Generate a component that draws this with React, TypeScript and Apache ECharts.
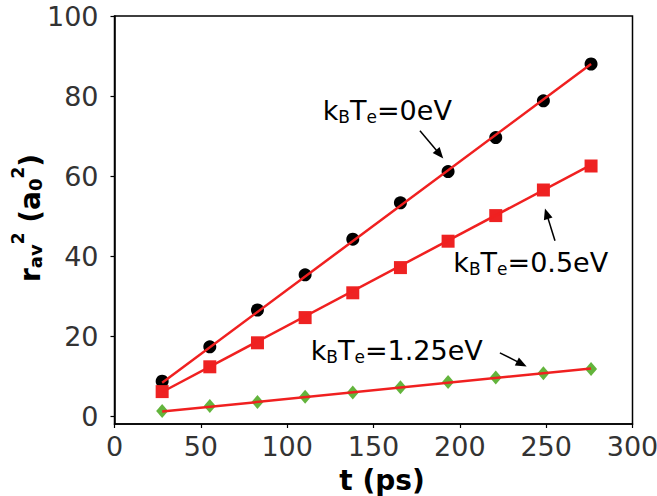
import React, { useEffect, useRef } from 'react';
import * as echarts from 'echarts';

// Sampling times (ps)
const tValues = [27.6, 55.2, 82.8, 110.4, 138.0, 165.6, 193.2, 220.8, 248.4, 276.0];
// Mean square displacement r_av^2 (a0^2) for three electron temperatures
const r2Te0 = [8.7, 17.3, 26.5, 35.3, 44.2, 53.3, 61.1, 69.6, 78.8, 88.0];
const r2Te05 = [6.1, 12.3, 18.3, 24.6, 30.8, 37.1, 43.7, 50.1, 56.5, 62.5];
const r2Te125 = [1.25, 2.5, 3.5, 4.8, 5.9, 7.2, 8.5, 9.6, 10.7, 11.75];

// Linear fits: end points in t and the fitted values there
const fitT = [27.6, 276.0];
const fitTe0 = [8.3, 88.0];
const fitTe05 = [6.0, 62.8];
const fitTe125 = [1.1, 11.9];

// Axis ticks
const xTicks = [0, 50, 100, 150, 200, 250, 300];
const yTicks = [0, 20, 40, 60, 80, 100];

// Annotation labels: [value text, left t, baseline r2] and arrows [tail t, tail r2, head t, head r2]
const labelTexts = ['0eV', '0.5eV', '1.25eV'];
const labelAnchors = [
  [120.6, 74.0],
  [196.2, 36.1],
  [113.6, 14.0],
];
const arrows = [
  [176.9, 71.3, 190.4, 64.4],
  [255.1, 43.8, 249.3, 51.9],
  [223.2, 15.8, 238.7, 12.4],
];

const FONT = 'DejaVu Sans';
const FIT_RED = '#f02020';

const pairs = (xs: number[], ys: number[]) => xs.map((x, i) => [x, ys[i]]);

export default function App() {
  const ref = useRef<HTMLDivElement>(null);

  useEffect(() => {
    if (!ref.current) return;
    const chart = echarts.init(ref.current, null, { renderer: 'svg', width: 657, height: 496 });

    const tickStyle = { show: true, inside: false, length: 4, lineStyle: { color: '#000', width: 1.2 } };

    chart.setOption({
      animation: false,
      backgroundColor: '#fff',
      grid: {
        left: 114.5,
        right: 24.5,
        top: 16,
        bottom: 72,
        show: true,
        borderColor: '#000',
        borderWidth: 1.5,
        backgroundColor: 'transparent',
        containLabel: false,
        outerBoundsMode: 'none',
      },
      xAxis: {
        type: 'value',
        min: 0,
        max: 300,
        interval: 50,
        axisLine: { show: true, onZero: false, lineStyle: { color: '#000', width: 1.5 } },
        axisTick: { ...tickStyle, customValues: xTicks },
        axisLabel: {
          customValues: xTicks,
          fontFamily: FONT,
          fontSize: 27,
          color: '#333',
          margin: 9,
        },
        splitLine: { show: false },
      },
      yAxis: {
        type: 'value',
        min: -2,
        max: 100,
        axisLine: { show: true, onZero: false, lineStyle: { color: '#000', width: 1.5 } },
        axisTick: { ...tickStyle, customValues: yTicks },
        axisLabel: {
          customValues: yTicks,
          fontFamily: FONT,
          fontSize: 27,
          color: '#333',
          margin: 16,
        },
        splitLine: { show: false },
      },
      series: [
        {
          type: 'scatter',
          data: pairs(tValues, r2Te0),
          symbol: 'circle',
          symbolSize: 13,
          itemStyle: { color: '#000', opacity: 1 },
          z: 2,
        },
        {
          type: 'scatter',
          data: pairs(tValues, r2Te05),
          symbol: 'rect',
          symbolSize: 13,
          itemStyle: { color: '#ee2222', opacity: 1 },
          z: 2,
        },
        {
          type: 'scatter',
          data: pairs(tValues, r2Te125),
          symbol: 'diamond',
          symbolSize: [12, 14],
          itemStyle: { color: '#63b43c', opacity: 1 },
          z: 2,
        },
        ...[fitTe0, fitTe05, fitTe125].map((fit) => ({
          type: 'line',
          data: pairs(fitT, fit),
          showSymbol: false,
          symbol: 'none',
          lineStyle: { color: FIT_RED, width: 2.5 },
          z: 3,
        })),
      ],
    });

    // Annotations placed from data coordinates
    const toPx = (p: number[]) => chart.convertToPixel({ gridIndex: 0 }, p) as number[];
    const rich = {
      m: { fontFamily: FONT, fontSize: 27, color: '#000' },
      s: { fontFamily: FONT, fontSize: 17, color: '#000', padding: [13, 0, 0, 0] },
    };
    const graphics: any[] = [];
    labelTexts.forEach((txt, i) => {
      const [px, py] = toPx(labelAnchors[i]);
      graphics.push({
        type: 'text',
        x: px,
        y: py - 9.5,
        z: 10,
        style: {
          text: `{m|k}{s|B}{m|T}{s|e}{m|=${txt}}`,
          rich,
          align: 'left',
          verticalAlign: 'middle',
        },
      });
    });
    arrows.forEach((a) => {
      const [tx, ty] = toPx([a[0], a[1]]);
      const [hx, hy] = toPx([a[2], a[3]]);
      const dx = hx - tx;
      const dy = hy - ty;
      const len = Math.hypot(dx, dy);
      const ux = dx / len;
      const uy = dy / len;
      const headLen = 11;
      const halfW = 4.5;
      const bx = hx - ux * headLen;
      const by = hy - uy * headLen;
      graphics.push({
        type: 'line',
        z: 10,
        shape: { x1: tx, y1: ty, x2: bx + ux, y2: by + uy },
        style: { stroke: '#000', lineWidth: 1.5 },
      });
      graphics.push({
        type: 'polygon',
        z: 10,
        shape: {
          points: [
            [hx, hy],
            [bx - uy * halfW, by + ux * halfW],
            [bx + uy * halfW, by - ux * halfW],
          ],
        },
        style: { fill: '#000' },
      });
    });

    // Axis titles
    graphics.push({
      type: 'text',
      x: 382,
      y: 480,
      z: 10,
      style: {
        text: 't (ps)',
        fontFamily: FONT,
        fontSize: 28,
        fontWeight: 'bold',
        fill: '#000',
        align: 'center',
        verticalAlign: 'middle',
      },
    });
    graphics.push({
      type: 'text',
      x: 30,
      y: 218,
      rotation: Math.PI / 2,
      z: 10,
      style: {
        text: '{m|r}{sub|av}{sup|2}{m| (a}{sub|0}{sup|2}{m|)}',
        align: 'center',
        verticalAlign: 'middle',
        rich: {
          m: { fontFamily: FONT, fontSize: 28, fontWeight: 'bold', color: '#000' },
          sub: { fontFamily: FONT, fontSize: 18, fontWeight: 'bold', color: '#000', padding: [10, 0, 0, 0] },
          sup: { fontFamily: FONT, fontSize: 17, fontWeight: 'bold', color: '#000', padding: [0, 0, 24, 0] },
        },
      },
    });

    chart.setOption({ graphic: graphics });

    return () => chart.dispose();
  }, []);

  return (
    <div
      ref={ref}
      style={{ position: 'absolute', left: 0, top: 0, width: 657, height: 496, background: '#fff' }}
    />
  );
}
